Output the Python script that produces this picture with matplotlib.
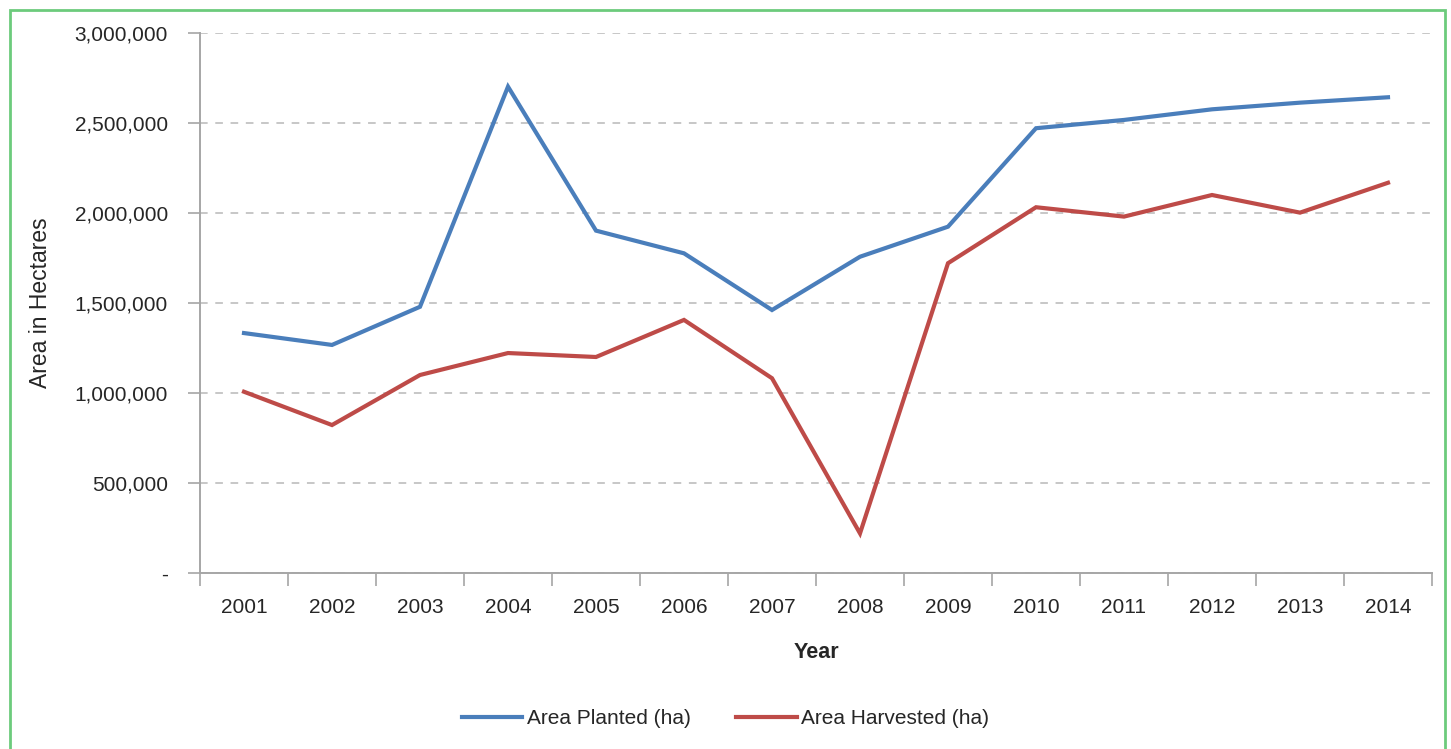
import matplotlib
matplotlib.use("Agg")
import matplotlib.pyplot as plt
from matplotlib.patches import Rectangle
from matplotlib.ticker import FixedLocator

years = ["2001", "2002", "2003", "2004", "2005", "2006", "2007",
         "2008", "2009", "2010", "2011", "2012", "2013", "2014"]
area_planted = [1333000, 1267000, 1479000, 2702000, 1902000, 1776000, 1461000,
                1757000, 1924000, 2471000, 2517000, 2576000, 2613000, 2643000]
area_harvested = [1007000, 822000, 1100000, 1222000, 1200000, 1406000, 1082000,
                  220000, 1721000, 2032000, 1980000, 2100000, 2002000, 2168000]
y_ticks = [0, 500000, 1000000, 1500000, 2000000, 2500000, 3000000]
y_tick_labels = ["-", "500,000", "1,000,000", "1,500,000",
                 "2,000,000", "2,500,000", "3,000,000"]

plt.rcParams["font.family"] = ["Liberation Sans", "DejaVu Sans"]
text_color = "#262626"
axis_color = "#a6a6a6"

fig = plt.figure(figsize=(14.51, 7.49), dpi=100)
ax = fig.add_axes([200 / 1451, 1 - 573 / 749, 1232 / 1451, 540 / 749])

x = list(range(len(years)))
ax.plot(x, area_planted, color="#4a7ebb", lw=3, label="Area Planted (ha)",
        solid_joinstyle="miter", zorder=3)
ax.plot(x, area_harvested, color="#be4b48", lw=3, label="Area Harvested (ha)",
        solid_joinstyle="miter", zorder=3)

ax.set_xlim(-0.5, len(years) - 0.5)
ax.set_ylim(0, 3000000)

# category labels at centres, tick marks on the boundaries
ax.set_xticks(x)
ax.set_xticklabels(years, fontsize=15, color=text_color)
ax.xaxis.set_minor_locator(FixedLocator([i - 0.5 for i in range(len(years) + 1)]))
ax.tick_params(axis="x", which="major", length=0, pad=18)
ax.tick_params(axis="x", which="minor", length=9, width=1.2, color=axis_color)

ax.set_yticks(y_ticks)
ax.set_yticklabels(y_tick_labels, fontsize=15, color=text_color)
ax.tick_params(axis="y", length=9, width=1.2, color=axis_color, pad=14)

ax.grid(axis="y", color="#b8b8b8", linestyle=(0, (5, 5)), lw=1.1)
ax.set_axisbelow(True)

for side in ["top", "right"]:
    ax.spines[side].set_visible(False)
for side in ["left", "bottom"]:
    ax.spines[side].set_color(axis_color)
    ax.spines[side].set_linewidth(1.4)

ax.set_xlabel("Year", fontsize=15.5, fontweight="bold", color=text_color, labelpad=18)
ax.set_ylabel("Area in Hectares", fontsize=16.5, color=text_color, labelpad=16)

fig.legend(loc="center", bbox_to_anchor=(0.5, 1 - 719 / 749), ncol=2,
           frameon=False, fontsize=15, handlelength=2.9, handletextpad=0.2,
           columnspacing=2.2, labelcolor=text_color)

# green frame around the panel
fig.patches.append(Rectangle((10 / 1451, -0.05), 1435 / 1451, 1.05 - 10 / 749,
                             transform=fig.transFigure, fill=False,
                             edgecolor="#6ccb7c", lw=2))

fig.savefig("out.png", dpi=100)
